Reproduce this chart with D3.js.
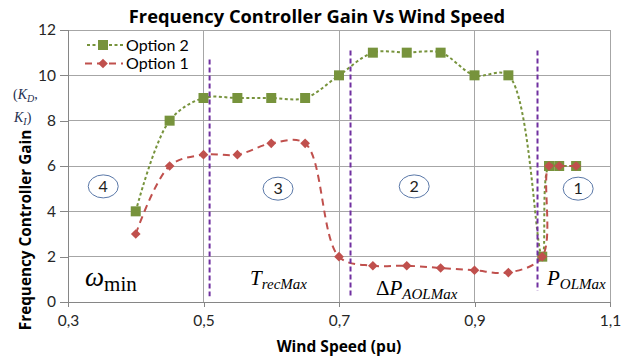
<!DOCTYPE html>
<html><head><meta charset="utf-8">
<script src="https://cdn.jsdelivr.net/npm/d3@7"></script>
<style>body{margin:0;background:#fff}svg{display:block}</style>
</head><body>
<script>
const windSpeed = [0.4,0.45,0.5,0.55,0.6,0.65,0.7,0.75,0.8,0.85,0.9,0.95,1.0,1.01,1.025,1.05];
const option2 = [4,8,9,9,9,9,10,11,11,11,10,10,2,6,6,6];
const option1 = [3,6,6.5,6.5,7,7,2,1.6,1.6,1.5,1.4,1.3,2,6,6,6];
const xTicks = [0.3,0.5,0.7,0.9,1.1];
const yTicks = [0,2,4,6,8,10,12];
const dividerX = [0.509,0.717,0.993];
const dividerTop = [10.7,11.1,11.1];
const dividerBottom = [0.25,0.15,0.5];
const regionLabels = ["4","3","2","1"];
const regionX = [0.352,0.610,0.811,1.053];
const regionY = [5.1,5.0,5.1,5.0];

const W=633,H=358;
const svg=d3.select("body").append("svg").attr("width",W).attr("height",H);
const x=d3.scaleLinear().domain([0.3,1.1]).range([68,610]);
const y=d3.scaleLinear().domain([0,12]).range([302,30]);
const sans="Lato, 'Open Sans', sans-serif";
const bold="'Open Sans', Lato, sans-serif";
const serif="'Liberation Serif','DejaVu Serif',serif";

// grid
svg.append("g").selectAll("line").data(yTicks.filter(d=>d>0)).join("line")
 .attr("x1",x(0.3)).attr("x2",x(1.1)).attr("y1",d=>y(d)).attr("y2",d=>y(d))
 .attr("stroke","#a6a6a6").attr("stroke-width",1).attr("shape-rendering","crispEdges");
svg.append("g").selectAll("line").data(xTicks.filter(d=>d>0.3)).join("line")
 .attr("x1",d=>x(d)).attr("x2",d=>x(d)).attr("y1",y(0)).attr("y2",y(12))
 .attr("stroke","#a6a6a6").attr("stroke-width",1).attr("shape-rendering","crispEdges");

// axes
const yAxis=svg.append("g").attr("transform",`translate(${x(0.3)},0)`)
 .call(d3.axisLeft(y).tickValues(yTicks).tickSize(8).tickPadding(4).tickFormat(d3.format("d")));
const xAxis=svg.append("g").attr("transform",`translate(0,${y(0)})`)
 .call(d3.axisBottom(x).tickValues(xTicks).tickSize(5).tickPadding(8).tickFormat(d=>d3.format(".1f")(d).replace(".",",")));
[yAxis,xAxis].forEach(a=>{
 a.select(".domain").attr("stroke","#868686").attr("shape-rendering","crispEdges");
 a.selectAll(".tick line").attr("stroke","#868686").attr("shape-rendering","crispEdges");
 a.selectAll("text").attr("font-family",sans).attr("font-size",15.5).attr("fill","#262626");
});

// titles
svg.append("text").attr("x",317).attr("y",23).attr("text-anchor","middle")
 .attr("font-family",bold).attr("font-weight","bold").attr("font-size",18.3).attr("fill","#000")
 .text("Frequency Controller Gain Vs Wind Speed");
svg.append("text").attr("x",339).attr("y",352).attr("text-anchor","middle")
 .attr("font-family",bold).attr("font-weight","bold").attr("font-size",15.5).attr("fill","#000")
 .text("Wind Speed (pu)");
svg.append("text").attr("transform","translate(31,230) rotate(-90)").attr("text-anchor","middle")
 .attr("font-family",bold).attr("font-weight","bold").attr("font-size",15.3).attr("fill","#000")
 .text("Frequency Controller Gain");

// K labels
const kd=svg.append("text").attr("x",13).attr("y",99).attr("font-family",serif).attr("font-size",14).attr("fill","#1f3050");
kd.append("tspan").text("(");
kd.append("tspan").attr("font-style","italic").text("K");
kd.append("tspan").attr("font-style","italic").attr("font-size",10).attr("dy",3).text("D");
kd.append("tspan").attr("dy",-3).text(",");
const ki=svg.append("text").attr("x",14).attr("y",122).attr("font-family",serif).attr("font-size",14).attr("fill","#1f3050");
ki.append("tspan").attr("font-style","italic").text("K");
ki.append("tspan").attr("font-style","italic").attr("font-size",10).attr("dy",3).text("I");
ki.append("tspan").attr("dy",-3).text(")");

// lines
const line=(vals)=>d3.line().x((d,i)=>x(windSpeed[i])).y(d=>y(d)).curve(d3.curveCatmullRom.alpha(0.5))(vals);
svg.append("path").attr("d",line(option2)).attr("fill","none").attr("stroke","#77933c")
 .attr("stroke-width",2).attr("stroke-dasharray","3,2.5");
svg.selectAll(".sq").data(option2).join("rect").attr("class","sq")
 .attr("x",(d,i)=>x(windSpeed[i])-5).attr("y",d=>y(d)-5).attr("width",10).attr("height",10)
 .attr("fill","#77933c");
svg.append("path").attr("d",line(option1)).attr("fill","none").attr("stroke","#c0504d")
 .attr("stroke-width",2).attr("stroke-dasharray","7,5");
svg.selectAll(".dm").data(option1).join("path").attr("class","dm")
 .attr("d",d3.symbol(d3.symbolDiamond2,60)())
 .attr("transform",(d,i)=>`translate(${x(windSpeed[i])},${y(d)})`).attr("fill","#c0504d");

// legend
const lg=svg.append("g");
lg.append("line").attr("x1",87).attr("x2",123).attr("y1",45).attr("y2",45).attr("stroke","#77933c").attr("stroke-width",2).attr("stroke-dasharray","3,2.5");
lg.append("rect").attr("x",98).attr("y",40).attr("width",10).attr("height",10).attr("fill","#77933c");
lg.append("text").attr("x",126).attr("y",50.5).attr("font-family",sans).attr("font-size",16).attr("fill","#000").text("Option 2");
lg.append("line").attr("x1",85).attr("x2",123).attr("y1",63.5).attr("y2",63.5).attr("stroke","#c0504d").attr("stroke-width",2).attr("stroke-dasharray","7,5");
lg.append("path").attr("d",d3.symbol(d3.symbolDiamond2,60)()).attr("transform","translate(103,63.5)").attr("fill","#c0504d");
lg.append("text").attr("x",126).attr("y",69).attr("font-family",sans).attr("font-size",16).attr("fill","#000").text("Option 1");

// region labels
const rg=svg.append("g").selectAll("g").data(regionLabels).join("g")
 .attr("transform",(d,i)=>`translate(${x(regionX[i])},${y(regionY[i])})`);
rg.append("ellipse").attr("rx",15).attr("ry",11.5).attr("fill","none").attr("stroke","#5a78a8").attr("stroke-width",1);
rg.append("text").attr("text-anchor","middle").attr("dy",5.5).attr("font-family",sans).attr("font-size",16).attr("fill","#222").text(d=>d);

// math annotations
const om=svg.append("text").attr("x",85).attr("y",286).attr("font-family",serif).attr("fill","#000");
om.append("tspan").attr("font-style","italic").attr("font-size",27).text("ω");
om.append("tspan").attr("font-size",21).attr("dy",5).text("min");
const tr=svg.append("text").attr("x",250).attr("y",285).attr("font-family",serif).attr("fill","#000");
tr.append("tspan").attr("font-style","italic").attr("font-size",21).text("T");
tr.append("tspan").attr("font-style","italic").attr("font-size",15).attr("dy",4).text("recMax");
const dp=svg.append("text").attr("x",376).attr("y",295).attr("font-family",serif).attr("fill","#000");
dp.append("tspan").attr("font-size",21).text("Δ");
dp.append("tspan").attr("font-style","italic").attr("font-size",21).text("P");
dp.append("tspan").attr("font-style","italic").attr("font-size",15).attr("dy",4).text("AOLMax");
const po=svg.append("text").attr("x",547).attr("y",285).attr("font-family",serif).attr("fill","#000");
po.append("tspan").attr("font-style","italic").attr("font-size",21).text("P");
po.append("tspan").attr("font-style","italic").attr("font-size",15).attr("dy",4).text("OLMax");

// dividers
svg.append("g").selectAll("line").data(dividerX).join("line")
 .attr("x1",d=>x(d)).attr("x2",d=>x(d)).attr("y1",(d,i)=>y(dividerTop[i])).attr("y2",(d,i)=>y(dividerBottom[i]))
 .attr("stroke","#7030a0").attr("stroke-width",2).attr("stroke-dasharray","5,3");
</script>
</body></html>
